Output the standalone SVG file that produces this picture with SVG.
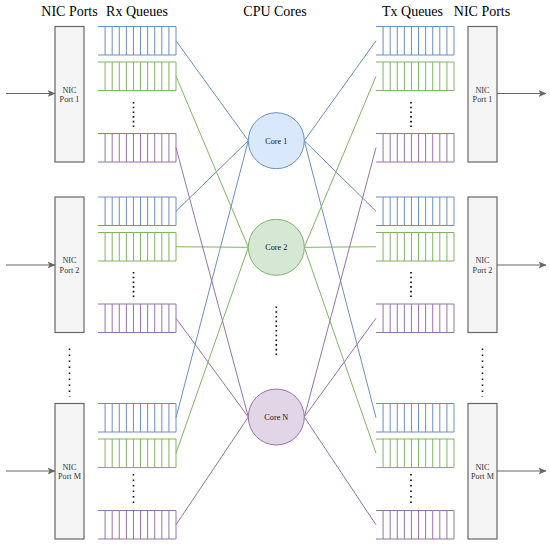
<svg xmlns="http://www.w3.org/2000/svg" xmlns:xlink="http://www.w3.org/1999/xlink" width="550" height="546" viewBox="0 0 550 546">
<style>
.hdr{font-family:"Liberation Serif","Times New Roman",serif;font-size:14px;fill:#000;text-anchor:middle}
.lbl{font-family:"Liberation Serif","Times New Roman",serif;font-size:8.2px;fill:#333;text-anchor:middle}
.port{fill:#f5f5f5;stroke:#666;stroke-width:1.2}
.qb{stroke:#6c8ebf;fill:none;stroke-width:1}
.qg{stroke:#82b366;fill:none;stroke-width:1}
.qp{stroke:#9673a6;fill:none;stroke-width:1}
.cb{fill:#dae8fc;stroke:#6c8ebf;stroke-width:1}
.cg{fill:#d5e8d4;stroke:#82b366;stroke-width:1}
.cp{fill:#e1d5e7;stroke:#9673a6;stroke-width:1}
.lb{stroke:#6c8ebf;stroke-width:1;fill:none}
.lg{stroke:#82b366;stroke-width:1;fill:none}
.lp{stroke:#9673a6;stroke-width:1;fill:none}
.arr{stroke:#666;stroke-width:1;fill:none;marker-end:url(#ah)}
.dots{stroke:#000;stroke-width:1.6;fill:none}
</style>
<defs>
<marker id="ah" markerWidth="8" markerHeight="8" viewBox="0 0 8 8" refX="7.5" refY="4" orient="auto" markerUnits="userSpaceOnUse">
<path d="M0,0.5 L8,4 L0,7.5 L2,4 Z" fill="#666" stroke="none"/>
</marker>
<path id="q" d="M0,0H78V28.5H0M7.09,0V28.5M14.18,0V28.5M21.27,0V28.5M28.36,0V28.5M35.45,0V28.5M42.55,0V28.5M49.64,0V28.5M56.73,0V28.5M63.82,0V28.5M70.91,0V28.5"/>
</defs>

<g id="headers">
<text class="hdr" x="69.5" y="15.5">NIC Ports</text>
<text class="hdr" x="137" y="15.5">Rx Queues</text>
<text class="hdr" x="275" y="15.5">CPU Cores</text>
<text class="hdr" x="412.5" y="15.5">Tx Queues</text>
<text class="hdr" x="482" y="15.5">NIC Ports</text>
</g>

<g id="connectors">
<line class="arr" x1="6" y1="93.5" x2="55" y2="93.5"/>
<line class="arr" x1="6" y1="265" x2="55" y2="265"/>
<line class="arr" x1="6" y1="471" x2="55" y2="471"/>
<line class="arr" x1="497" y1="93.5" x2="546" y2="93.5"/>
<line class="arr" x1="497" y1="265" x2="546" y2="265"/>
<line class="arr" x1="497" y1="471" x2="546" y2="471"/>
<line class="lb" x1="176" y1="40.75" x2="248.3" y2="140.7"/>
<line class="lb" x1="176" y1="211.25" x2="248.3" y2="140.7"/>
<line class="lb" x1="176" y1="417.75" x2="248.3" y2="140.7"/>
<line class="lg" x1="176" y1="76.25" x2="248.3" y2="247.3"/>
<line class="lg" x1="176" y1="246.75" x2="248.3" y2="247.3"/>
<line class="lg" x1="176" y1="453.25" x2="248.3" y2="247.3"/>
<line class="lp" x1="176" y1="147.75" x2="248.3" y2="417"/>
<line class="lp" x1="176" y1="318.25" x2="248.3" y2="417"/>
<line class="lp" x1="176" y1="524.75" x2="248.3" y2="417"/>
<line class="lb" x1="304.3" y1="140.7" x2="376" y2="40.75"/>
<line class="lb" x1="304.3" y1="140.7" x2="376" y2="211.25"/>
<line class="lb" x1="304.3" y1="140.7" x2="376" y2="417.75"/>
<line class="lg" x1="304.3" y1="247.3" x2="376" y2="76.25"/>
<line class="lg" x1="304.3" y1="247.3" x2="376" y2="246.75"/>
<line class="lg" x1="304.3" y1="247.3" x2="376" y2="453.25"/>
<line class="lp" x1="304.3" y1="417" x2="376" y2="147.75"/>
<line class="lp" x1="304.3" y1="417" x2="376" y2="318.25"/>
<line class="lp" x1="304.3" y1="417" x2="376" y2="524.75"/>
</g>

<g id="rx-port-1"><rect class="port" x="55" y="26.5" width="29" height="135.5"/><text class="lbl" x="69.5" y="92.5">NIC</text><text class="lbl" x="69.5" y="102">Port 1</text></g>
<g id="rx-port-2"><rect class="port" x="55" y="197" width="29" height="135.5"/><text class="lbl" x="69.5" y="263">NIC</text><text class="lbl" x="69.5" y="272.5">Port 2</text></g>
<g id="rx-port-m"><rect class="port" x="55" y="403.5" width="29" height="135.5"/><text class="lbl" x="69.5" y="469.5">NIC</text><text class="lbl" x="69.5" y="479">Port M</text></g>

<g id="rx-q-1-1"><use xlink:href="#q" class="qb" x="98" y="26.5"/></g>
<g id="rx-q-1-2"><use xlink:href="#q" class="qg" x="98" y="62"/></g>
<g id="rx-q-1-n"><use xlink:href="#q" class="qp" x="98" y="133.5"/></g>
<g id="rx-q-2-1"><use xlink:href="#q" class="qb" x="98" y="197"/></g>
<g id="rx-q-2-2"><use xlink:href="#q" class="qg" x="98" y="232.5"/></g>
<g id="rx-q-2-n"><use xlink:href="#q" class="qp" x="98" y="304"/></g>
<g id="rx-q-m-1"><use xlink:href="#q" class="qb" x="98" y="403.5"/></g>
<g id="rx-q-m-2"><use xlink:href="#q" class="qg" x="98" y="439"/></g>
<g id="rx-q-m-n"><use xlink:href="#q" class="qp" x="98" y="510.5"/></g>

<g id="tx-q-1-1"><use xlink:href="#q" class="qb" x="376" y="26.5"/></g>
<g id="tx-q-1-2"><use xlink:href="#q" class="qg" x="376" y="62"/></g>
<g id="tx-q-1-n"><use xlink:href="#q" class="qp" x="376" y="133.5"/></g>
<g id="tx-q-2-1"><use xlink:href="#q" class="qb" x="376" y="197"/></g>
<g id="tx-q-2-2"><use xlink:href="#q" class="qg" x="376" y="232.5"/></g>
<g id="tx-q-2-n"><use xlink:href="#q" class="qp" x="376" y="304"/></g>
<g id="tx-q-m-1"><use xlink:href="#q" class="qb" x="376" y="403.5"/></g>
<g id="tx-q-m-2"><use xlink:href="#q" class="qg" x="376" y="439"/></g>
<g id="tx-q-m-n"><use xlink:href="#q" class="qp" x="376" y="510.5"/></g>

<g id="tx-port-1"><rect class="port" x="468" y="26.5" width="29" height="135.5"/><text class="lbl" x="482.5" y="92.5">NIC</text><text class="lbl" x="482.5" y="102">Port 1</text></g>
<g id="tx-port-2"><rect class="port" x="468" y="197" width="29" height="135.5"/><text class="lbl" x="482.5" y="263">NIC</text><text class="lbl" x="482.5" y="272.5">Port 2</text></g>
<g id="tx-port-m"><rect class="port" x="468" y="403.5" width="29" height="135.5"/><text class="lbl" x="482.5" y="469.5">NIC</text><text class="lbl" x="482.5" y="479">Port M</text></g>

<g id="core-1"><circle class="cb" cx="276.3" cy="140.7" r="28"/><text class="lbl" x="276.3" y="143.5" style="fill:#111">Core 1</text></g>
<g id="core-2"><circle class="cg" cx="276.3" cy="247.3" r="28"/><text class="lbl" x="276.3" y="250.1" style="fill:#111">Core 2</text></g>
<g id="core-n"><circle class="cp" cx="276.3" cy="417" r="28"/><text class="lbl" x="276.3" y="419.8" style="fill:#111">Core N</text></g>

<g id="ellipses">
<line class="dots" x1="133.5" y1="102" x2="133.5" y2="127" stroke-dasharray="1.6 3.1"/>
<line class="dots" x1="133.5" y1="272" x2="133.5" y2="297" stroke-dasharray="1.6 3.1"/>
<line class="dots" x1="133.5" y1="474" x2="133.5" y2="503" stroke-dasharray="1.6 3.9"/>
<line class="dots" x1="411" y1="102" x2="411" y2="127" stroke-dasharray="1.6 3.1"/>
<line class="dots" x1="411" y1="272" x2="411" y2="297" stroke-dasharray="1.6 3.1"/>
<line class="dots" x1="411" y1="474" x2="411" y2="503" stroke-dasharray="1.6 3.9"/>
<line class="dots" x1="69.5" y1="348.5" x2="69.5" y2="397" stroke-dasharray="1.6 4.4"/>
<line class="dots" x1="482.5" y1="348.5" x2="482.5" y2="397" stroke-dasharray="1.6 4.4"/>
<line class="dots" x1="276.3" y1="306.5" x2="276.3" y2="355" stroke-dasharray="1.6 3.1"/>
</g>
</svg>
